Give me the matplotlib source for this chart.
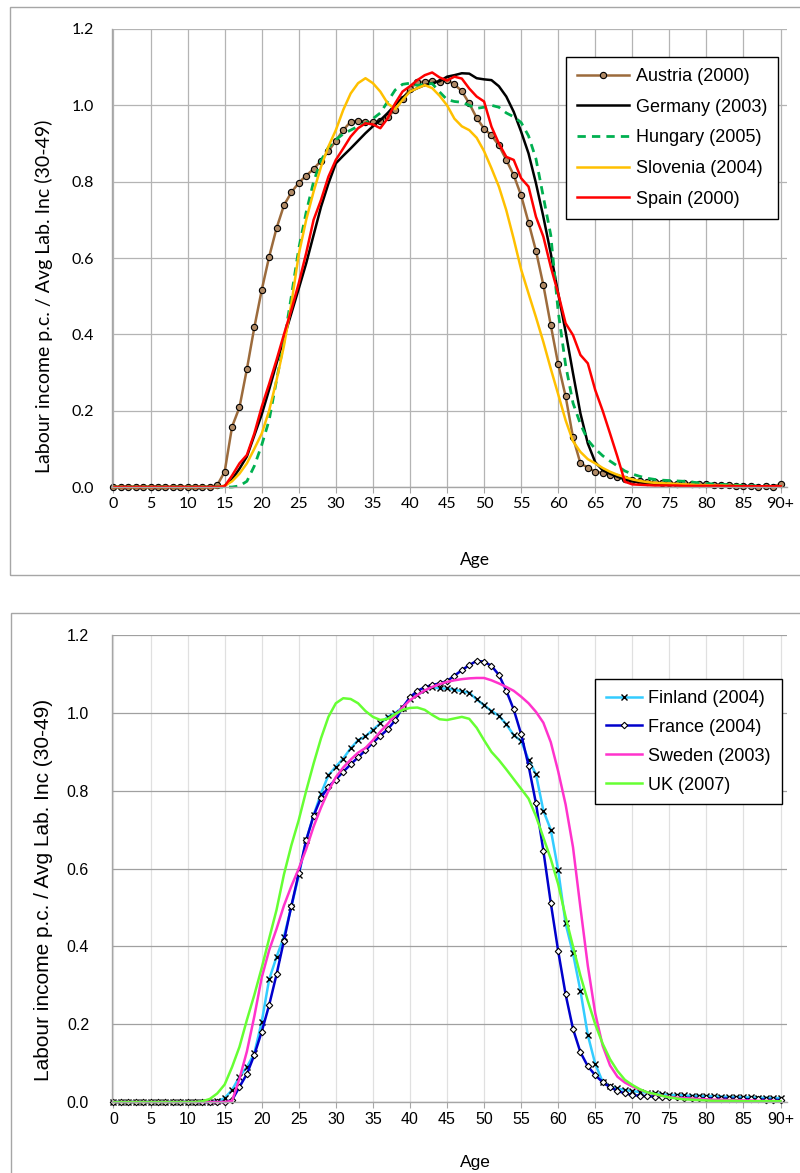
import matplotlib
matplotlib.use("Agg")
import matplotlib.pyplot as plt
from matplotlib.patches import Rectangle

plt.rcParams['font.family'] = ['Liberation Sans', 'DejaVu Sans']

ages = list(range(91))
tick_pos = list(range(0, 91, 5))
tick_lab = [str(a) for a in range(0, 90, 5)] + ['90+']
yticks = [0.0, 0.2, 0.4, 0.6, 0.8, 1.0, 1.2]

# top panel
austria = [0]*14 + [0.005, 0.04, 0.158, 0.209, 0.309, 0.418, 0.516, 0.603, 0.678, 0.738,
    0.772, 0.797, 0.816, 0.833, 0.855, 0.880, 0.907, 0.935, 0.957, 0.960,
    0.957, 0.955, 0.960, 0.970, 0.988, 1.016, 1.044, 1.060, 1.062, 1.065,
    1.061, 1.066, 1.055, 1.037, 1.005, 0.967, 0.939, 0.921, 0.895, 0.857,
    0.817, 0.764, 0.693, 0.619, 0.529, 0.424, 0.322, 0.238, 0.130, 0.062,
    0.051, 0.040, 0.037, 0.032, 0.027, 0.022, 0.018, 0.016, 0.014, 0.012,
    0.011, 0.010, 0.009, 0.010, 0.009, 0.008, 0.007, 0.006, 0.005, 0.006,
    0.003, 0.002, 0.002, 0.001, 0.002, 0.001, 0.008]
germany = [0]*15 + [0.003, 0.02, 0.048, 0.08, 0.135, 0.19, 0.255, 0.324, 0.39,
    0.455, 0.52, 0.586, 0.66, 0.734, 0.795, 0.848, 0.868, 0.887, 0.907,
    0.927, 0.945, 0.961, 0.98, 1.001, 1.02, 1.036, 1.045, 1.053, 1.058,
    1.063, 1.075, 1.079, 1.084, 1.083, 1.071, 1.068, 1.066, 1.05, 1.023,
    0.983, 0.931, 0.874, 0.796, 0.708, 0.612, 0.507, 0.407, 0.298, 0.193,
    0.114, 0.065, 0.044, 0.035, 0.027, 0.02, 0.015, 0.012, 0.01, 0.008,
    0.007, 0.006, 0.005, 0.005, 0.004, 0.004, 0.004, 0.003, 0.003, 0.003,
    0.003, 0.003, 0.002, 0.002, 0.001, 0.001, 0.001]
hungary = [0]*17 + [0.003, 0.015, 0.055, 0.11, 0.175, 0.28, 0.38, 0.50, 0.625,
    0.72, 0.80, 0.855, 0.89, 0.91, 0.925, 0.935, 0.945, 0.953, 0.965,
    0.98, 1.01, 1.04, 1.055, 1.058, 1.052, 1.055, 1.057, 1.035, 1.015,
    1.01, 1.008, 1.0, 0.992, 0.995, 1.0, 0.995, 0.98, 0.97, 0.955,
    0.92, 0.86, 0.76, 0.66, 0.46, 0.32, 0.22, 0.165, 0.123, 0.1,
    0.082, 0.068, 0.055, 0.042, 0.034, 0.028, 0.023, 0.02, 0.018, 0.017,
    0.016, 0.015, 0.013, 0.011, 0.009, 0.008, 0.007, 0.006, 0.005, 0.004,
    0.003, 0.003, 0.002, 0.002, 0.002]
slovenia = [0]*15 + [0.003, 0.015, 0.035, 0.062, 0.10, 0.14, 0.20, 0.28, 0.37,
    0.48, 0.61, 0.70, 0.774, 0.839, 0.892, 0.935, 0.988, 1.031, 1.058,
    1.071, 1.058, 1.036, 1.005, 0.99, 1.014, 1.036, 1.045, 1.053, 1.045,
    1.025, 1.0, 0.965, 0.945, 0.935, 0.915, 0.88, 0.835, 0.787, 0.725,
    0.65, 0.57, 0.507, 0.445, 0.38, 0.31, 0.243, 0.175, 0.12, 0.092,
    0.073, 0.062, 0.05, 0.04, 0.032, 0.026, 0.02, 0.016, 0.013, 0.011,
    0.01, 0.009, 0.008, 0.007, 0.006, 0.005, 0.005, 0.004, 0.004, 0.003,
    0.003, 0.002, 0.002, 0.002, 0.001, 0.001, 0.001]
spain = [0]*15 + [0.002, 0.03, 0.062, 0.084, 0.14, 0.21, 0.27, 0.333, 0.40,
    0.464, 0.534, 0.613, 0.70, 0.752, 0.813, 0.857, 0.887, 0.918, 0.94,
    0.953, 0.95, 0.94, 0.966, 1.005, 1.036, 1.05, 1.066, 1.079, 1.086,
    1.073, 1.065, 1.075, 1.07, 1.044, 1.023, 1.01, 0.944, 0.90, 0.865,
    0.857, 0.809, 0.787, 0.708, 0.656, 0.577, 0.507, 0.429, 0.398, 0.346,
    0.324, 0.254, 0.20, 0.14, 0.079, 0.014, 0.007, 0.006, 0.005, 0.004,
    0.004, 0.004, 0.004, 0.003, 0.003, 0.003, 0.003, 0.003, 0.003, 0.002,
    0.002, 0.002, 0.002, 0.002, 0.002, 0.002, 0.002]

# bottom panel
finland = [0]*14 + [0.002, 0.01, 0.031, 0.065, 0.09, 0.125, 0.206, 0.315, 0.373, 0.425,
    0.502, 0.583, 0.673, 0.737, 0.793, 0.84, 0.862, 0.883, 0.909, 0.93,
    0.94, 0.957, 0.973, 0.99, 1.0, 1.014, 1.037, 1.046, 1.058, 1.067,
    1.063, 1.063, 1.06, 1.056, 1.052, 1.035, 1.02, 1.005, 0.993, 0.971,
    0.943, 0.928, 0.88, 0.843, 0.749, 0.70, 0.596, 0.459, 0.382, 0.286,
    0.172, 0.098, 0.052, 0.04, 0.035, 0.031, 0.028, 0.026, 0.024, 0.022,
    0.02, 0.018, 0.018, 0.017, 0.016, 0.016, 0.015, 0.015, 0.014, 0.013,
    0.013, 0.012, 0.012, 0.011, 0.011, 0.010, 0.010]
france = [0]*16 + [0.005, 0.039, 0.072, 0.121, 0.181, 0.249, 0.328, 0.415,
    0.504, 0.588, 0.673, 0.736, 0.782, 0.81, 0.829, 0.849, 0.868, 0.886,
    0.904, 0.924, 0.941, 0.958, 0.981, 1.014, 1.04, 1.057, 1.066, 1.072,
    1.076, 1.082, 1.096, 1.11, 1.123, 1.134, 1.132, 1.121, 1.098, 1.057,
    1.009, 0.946, 0.865, 0.768, 0.646, 0.512, 0.388, 0.277, 0.188, 0.128,
    0.092, 0.069, 0.051, 0.038, 0.029, 0.022, 0.018, 0.016, 0.015, 0.014,
    0.013, 0.012, 0.012, 0.011, 0.011, 0.010, 0.010, 0.010, 0.009, 0.009,
    0.008, 0.008, 0.007, 0.007, 0.006, 0.006, 0.005]
sweden = [0]*16 + [0.003, 0.06, 0.13, 0.22, 0.32, 0.39, 0.445, 0.505,
    0.555, 0.60, 0.65, 0.708, 0.757, 0.80, 0.835, 0.86, 0.88, 0.898,
    0.91, 0.93, 0.952, 0.972, 0.994, 1.014, 1.033, 1.046, 1.058, 1.067,
    1.074, 1.08, 1.084, 1.087, 1.089, 1.09, 1.09, 1.084, 1.076, 1.067,
    1.057, 1.042, 1.025, 1.003, 0.975, 0.925, 0.85, 0.765, 0.655, 0.5,
    0.35, 0.228, 0.145, 0.094, 0.065, 0.05, 0.04, 0.032, 0.025, 0.02,
    0.016, 0.013, 0.011, 0.01, 0.009, 0.008, 0.007, 0.006, 0.006, 0.005,
    0.005, 0.004, 0.004, 0.003, 0.003, 0.003, 0.002]
uk = [0]*12 + [0.002, 0.008, 0.022, 0.045, 0.09, 0.142, 0.211, 0.275, 0.345, 0.42,
    0.494, 0.585, 0.66, 0.725, 0.80, 0.87, 0.935, 0.99, 1.025, 1.038,
    1.036, 1.025, 1.005, 0.99, 0.982, 0.985, 0.997, 1.008, 1.013, 1.014,
    1.008, 0.995, 0.984, 0.982, 0.986, 0.99, 0.985, 0.962, 0.93, 0.9,
    0.879, 0.855, 0.83, 0.805, 0.78, 0.735, 0.68, 0.625, 0.56, 0.476,
    0.40, 0.325, 0.26, 0.2, 0.15, 0.11, 0.08, 0.057, 0.044, 0.033,
    0.025, 0.021, 0.016, 0.012, 0.009, 0.007, 0.006, 0.005, 0.004, 0.003,
    0.003, 0.003, 0.003, 0.002, 0.002, 0.002, 0.002, 0.002, 0.002]

fig = plt.figure(figsize=(8, 11.73), dpi=100)

# outer chart frames
fig.patches.append(Rectangle((0.0125, 0.5098), 1.0, 0.4842, transform=fig.transFigure,
                             fill=False, edgecolor='#A6A6A6', linewidth=1.0))
fig.patches.append(Rectangle((0.01375, -0.02), 1.0, 0.4974, transform=fig.transFigure,
                             fill=False, edgecolor='#A6A6A6', linewidth=1.0))

ax1 = fig.add_axes([0.14, 0.5848, 0.844, 0.3905])
ax2 = fig.add_axes([0.14, 0.0605, 0.844, 0.398])

lw = 1.8
ax1.plot(ages, austria, color='#9C6B3C', lw=lw, marker='o', ms=4.5, mfc='#B08A66',
         mec='black', mew=0.8, label='Austria (2000)', clip_on=False)
ax1.plot(ages, germany, color='black', lw=lw, label='Germany (2003)', clip_on=False)
ax1.plot(ages, hungary, color='#00B050', lw=2.0, ls=(0, (3, 2.2)), label='Hungary (2005)',
         clip_on=False)
ax1.plot(ages, slovenia, color='#FFC000', lw=lw, label='Slovenia (2004)', clip_on=False)
ax1.plot(ages, spain, color='#FF0000', lw=lw, label='Spain (2000)', clip_on=False)

ax2.plot(ages, finland, color='#33CCFF', lw=lw, marker='x', ms=4, mec='black', mew=1.0,
         label='Finland (2004)', clip_on=False)
ax2.plot(ages, france, color='#0000CC', lw=lw, marker='D', ms=3.3, mfc='white', mec='black',
         mew=0.8, label='France (2004)', clip_on=False)
ax2.plot(ages, sweden, color='#FF33CC', lw=lw, label='Sweden (2003)', clip_on=False)
ax2.plot(ages, uk, color='#66FF33', lw=lw, label='UK (2007)', clip_on=False)

top_font = ['Lato', 'Liberation Sans', 'DejaVu Sans']

for ax, ylab_y, xlab_y, ypad, fam, ysz in [(ax1, 0.417, -0.142, 13, top_font, 14),
                                           (ax2, 0.454, -0.1135, 16.5, ['Liberation Sans'], 15)]:
    ax.set_xlim(-0.2, 90.9)
    ax.set_ylim(0, 1.2)
    ax.set_xticks(tick_pos)
    ax.set_xticklabels(tick_lab, family=fam, fontsize=11.5)
    ax.set_yticks(yticks)
    ax.set_yticklabels(['%.1f' % v for v in yticks], family=fam, fontsize=11.5)
    ax.tick_params(axis='x', direction='out', length=4, width=0.8, color='#A6A6A6', pad=3)
    ax.tick_params(axis='y', length=0, pad=ypad)
    for s in ['top', 'right']:
        ax.spines[s].set_visible(False)
    for s in ['left', 'bottom']:
        ax.spines[s].set_color('#A6A6A6')
        ax.spines[s].set_linewidth(1.0)
    ax.set_axisbelow(True)
    ax.set_ylabel('Labour income p.c. / Avg Lab. Inc (30-49)', family=fam, fontsize=ysz)
    ax.yaxis.set_label_coords(-0.088, ylab_y)
    ax.set_xlabel('Age', family=fam, fontsize=12.5)
    ax.xaxis.set_label_coords(0.538, xlab_y)

ax1.grid(True, color='#B4B4B4', lw=0.9)
ax2.grid(True, axis='y', color='#A0A0A0', lw=0.9)
ax2.grid(True, axis='x', color='#E0E0E0', lw=0.9)

leg_kw = dict(loc='upper left', bbox_transform=fig.transFigure, borderaxespad=0,
              fontsize=13, fancybox=False, framealpha=1, edgecolor='black',
              borderpad=0.6, handletextpad=0.35)
l1 = ax1.legend(bbox_to_anchor=(0.7075, 0.9514), handlelength=2.9, labelspacing=0.76, **leg_kw)
l2 = ax2.legend(bbox_to_anchor=(0.7438, 0.4211), handlelength=2.0, labelspacing=0.66, **leg_kw)
for l in (l1, l2):
    l.get_frame().set_linewidth(1.0)

fig.savefig('out.png', dpi=100)
